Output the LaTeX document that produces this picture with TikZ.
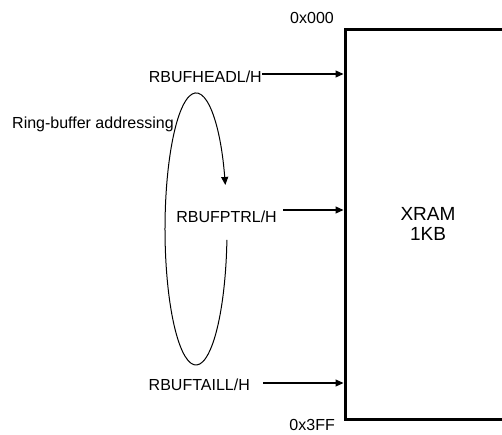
\documentclass[tikz,border=0pt]{standalone}
\usepackage{fontspec}
\setmainfont{Liberation Sans}
\usetikzlibrary{arrows.meta}

\begin{document}
\begin{tikzpicture}[>={Triangle[length=8pt,width=7pt]},x=1pt,y=1pt,
  lbl/.style={inner sep=0pt,font=\fontsize{16}{19}\selectfont},
  ptr/.style={->,line width=1.1pt}]
  \useasboundingbox (0,0) rectangle (502,-434);
  \clip (0,0) rectangle (502,-434);
  \node[draw,line width=3pt,minimum width=166pt,minimum height=390pt,align=center,
    font=\fontsize{19}{20}\selectfont] (xram) at (428,-224) {XRAM\\1KB};
  \node[lbl,anchor=east] (top) at (334,-18) {0x000};
  \node[lbl,anchor=east] (bot) at (335,-425) {0x3FF};
  \coordinate (headout) at (262,-74);
  \coordinate (ptrout) at (283,-210);
  \coordinate (tailout) at (263,-383);
  \node[lbl,anchor=east] (head) at ([yshift=-3pt]headout) {RBUFHEADL/H};
  \node[lbl,anchor=east] (ptr) at (277,-217) {RBUFPTRL/H};
  \node[lbl,anchor=east] (tail) at (250,-385) {RBUFTAILL/H};
  \draw[ptr] (headout) -- (headout -| xram.west);
  \draw[ptr] (ptrout) -- (ptrout -| xram.west);
  \draw[ptr] (tailout) -- (tailout -| xram.west);
  \node[lbl,anchor=west] (ring) at (12,-124) {Ring-buffer addressing};
  \draw[<-,line width=1pt] (225.33,-184.94)
    arc[start angle=18.9,end angle=355.4,x radius=31,y radius=136];
\end{tikzpicture}
\end{document}
